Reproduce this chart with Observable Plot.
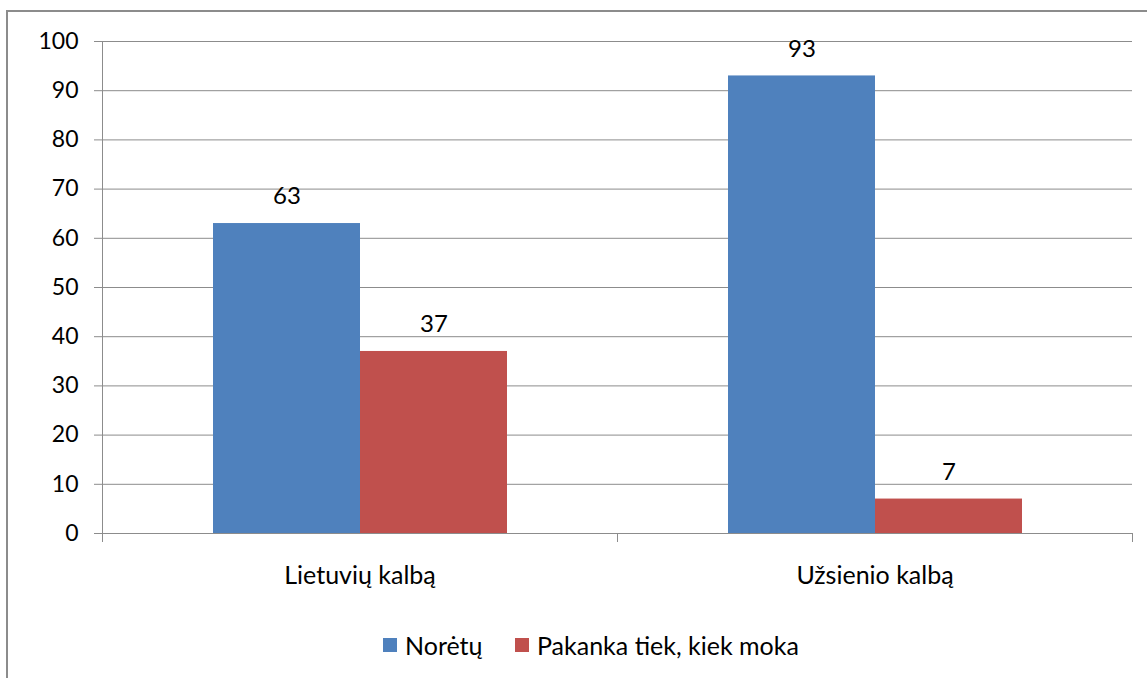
<!DOCTYPE html>
<html>
<head>
<meta charset="utf-8">
<script src="https://cdn.jsdelivr.net/npm/d3@7"></script>
<script src="https://cdn.jsdelivr.net/npm/@observablehq/plot@0.6"></script>
<style>
  html, body { margin: 0; padding: 0; background: #fff; overflow: hidden; }
  #wrap { position: relative; width: 1147px; height: 678px; font-family: Lato, "Open Sans", sans-serif; }
  #border { position: absolute; left: 6px; top: 10px; width: 1400px; height: 900px;
            border-left: 2px solid #8c8c8c; border-top: 2px solid #8c8c8c; }
  #chart { position: absolute; left: 0; top: 0; }
  .leg { position: absolute; top: 633px; height: 24px; display: flex; align-items: center;
         font-size: 25px; color: #000; white-space: nowrap; }
  .sw { width: 14px; height: 14px; margin-right: 8px; }
</style>
</head>
<body>
<div id="wrap">
  <div id="border"></div>
  <div id="chart"></div>
  <div id="legend"></div>
</div>
<script>
const categories = ["Lietuvių kalbą", "Užsienio kalbą"];
const series = ["Norėtų", "Pakanka tiek, kiek moka"];
const noretu = [63, 93];
const pakanka = [37, 7];
const yTicks = [0, 10, 20, 30, 40, 50, 60, 70, 80, 90, 100];
const colors = ["#4F81BD", "#C0504D"];

const data = categories.flatMap((c, i) => [
  {category: c, series: series[0], value: noretu[i]},
  {category: c, series: series[1], value: pakanka[i]}
]);

const gray = "#8c8c8c";

const chart = Plot.plot({
  width: 1147,
  height: 678,
  marginLeft: 101,
  marginRight: 15,
  marginTop: 41,
  marginBottom: 145,
  style: {fontFamily: "Lato, 'Open Sans', sans-serif", fontSize: "23px", color: "#000", background: "transparent"},
  fx: {domain: categories, padding: 0, label: null},
  x: {domain: series, paddingInner: 0, paddingOuter: 0.75, axis: null},
  y: {domain: [0, 100], axis: null},
  color: {domain: series, range: colors},
  marks: [
    Plot.gridY(yTicks, {stroke: gray, strokeOpacity: 1}),
    Plot.frame({anchor: "left", stroke: gray, insetBottom: -8, fx: () => categories[0]}),
    Plot.frame({anchor: "left", stroke: gray, insetTop: 492, insetBottom: -8}),
    Plot.frame({anchor: "right", stroke: gray, insetTop: 492, insetBottom: -8}),
    Plot.barY(data, {fx: "category", x: "series", y: "value", fill: "series"}),
    Plot.text(data, {fx: "category", x: "series", y: "value", text: d => String(d.value), dy: -27, fill: "#000", fontSize: 24}),
    Plot.axisY(yTicks, {tickSize: 8, tickPadding: 16, stroke: gray, fill: "#000", label: null, tickFormat: d => String(d)}),
    Plot.axisFx({anchor: "bottom", tickSize: 0, tickPadding: 33, label: null, fill: "#000", fontSize: 25})
  ]
});
document.getElementById("chart").appendChild(chart);

const legend = document.getElementById("legend");
const legLeft = [383, 515];
series.forEach((s, i) => {
  const item = document.createElement("div");
  item.className = "leg";
  item.style.left = legLeft[i] + "px";
  const sw = document.createElement("div");
  sw.className = "sw";
  sw.style.background = colors[i];
  const t = document.createElement("span");
  t.textContent = s;
  item.appendChild(sw);
  item.appendChild(t);
  legend.appendChild(item);
});
</script>
</body>
</html>
